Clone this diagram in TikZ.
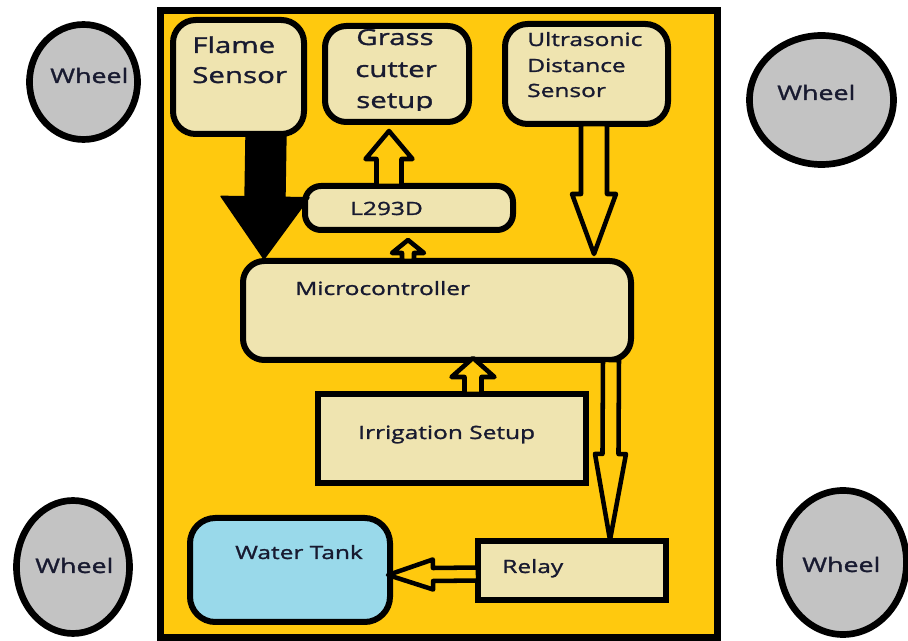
\documentclass[tikz,border=0pt]{standalone}
\usepackage{fontspec}
\setmainfont[FakeStretch=1.34,FakeBold=1.4]{Open Sans}
\usetikzlibrary{shapes.geometric}
\definecolor{gold}{RGB}{255,201,14}
\definecolor{boxtan}{RGB}{239,228,176}
\definecolor{tankblue}{RGB}{153,217,234}
\definecolor{wheelgray}{RGB}{195,195,195}
\definecolor{txt}{RGB}{24,26,48}
\makeatletter
% \blockarrow[style]{from}{to}{half shaft}{half head}{head length}  (px units)
\newcommand\blockarrow[6][]{%
  \pgfpointdiff{\pgfpointanchor{#2}{center}}{\pgfpointanchor{#3}{center}}%
  \pgfgetlastxy{\ba@dx}{\ba@dy}%
  \pgfmathsetmacro\ba@ang{atan2(\ba@dy,\ba@dx)}%
  \pgfmathsetmacro\ba@len{veclen(\ba@dx,\ba@dy)/0.75}%
  \begin{scope}[shift={(#2)}, rotate=\ba@ang, x=0.75pt, y=0.75pt]
    \draw[#1] (0,-#4) -- ({\ba@len-#6},-#4) -- ({\ba@len-#6},-#5) -- (\ba@len,0)
      -- ({\ba@len-#6},#5) -- ({\ba@len-#6},#4) -- (0,#4) -- cycle;
  \end{scope}}
\makeatother
\tikzset{
  box/.style={draw=black, line width=4.5pt, fill=boxtan, inner sep=0pt, outer sep=0pt},
  wheel/.style={ellipse, draw=black, line width=5pt, fill=wheelgray, inner sep=0pt},
  lbl/.style={anchor=base west, inner sep=0pt, text=txt, font=\fontsize{13.7}{16}\selectfont},
  biglbl/.style={lbl, font=\fontsize{16.5}{20}\selectfont},
  wheellbl/.style={lbl, font=\fontsize{15}{18}\selectfont},
  hollowarrow/.style={draw=black, line width=3.4pt, fill=gold, line join=round},
  solidarrow/.style={draw=black, line width=1pt, fill=black, line join=round}
}
\begin{document}
\begin{tikzpicture}[x=0.75pt, y=-0.75pt]
\useasboundingbox (0,0) rectangle (908,641);
\fill[white] (0,0) rectangle (908,641);

% chassis
\node[draw=black, line width=5.25pt, fill=gold, inner sep=0pt,
      minimum width=417.75pt, minimum height=470.25pt] (chassis) at (439,324) {};

% wheels
\node[wheel, minimum width=81pt, minimum height=86.25pt] (w1) at (83.5,82) {};
\node[wheel, minimum width=108pt, minimum height=96.75pt] (w2) at (821.5,100) {};
\node[wheel, minimum width=84.75pt, minimum height=99.75pt] (w3) at (73,567) {};
\node[wheel, minimum width=95.25pt, minimum height=108pt] (w4) at (843,562.5) {};

% boxes
\node[box, rounded corners=17pt, minimum width=98.25pt, minimum height=85.5pt] (flame) at (238.5,77) {};
\node[box, rounded corners=16pt, minimum width=108pt, minimum height=72pt] (grass) at (397,74) {};
\node[box, rounded corners=17pt, minimum width=122.25pt, minimum height=75pt] (ultra) at (586.5,74) {};
\node[box, rounded corners=12pt, minimum width=156pt, minimum height=33pt] (l293) at (409,208) {};
\node[box, rounded corners=16pt, minimum width=291pt, minimum height=74.25pt] (micro) at (437,310.5) {};
\node[box, minimum width=201pt, minimum height=66.75pt] (irr) at (452,438.5) {};
\node[box, fill=tankblue, rounded corners=19pt, minimum width=150pt, minimum height=78pt] (tank) at (290,570) {};
\node[box, minimum width=141pt, minimum height=44.25pt] (relay) at (572,570.5) {};

% arrow end points
\coordinate (fa1) at (266,135);  \coordinate (fa2) at (264,259);
\coordinate (ga1) at (389,186);  \coordinate (ga2) at (389,131);
\coordinate (sa1) at (408,261);  \coordinate (sa2) at (408,240);
\coordinate (ua1) at (594,124);  \coordinate (ua2) at (594,254);
\coordinate (ia1) at (473,394);  \coordinate (ia2) at (473,358);
\coordinate (ra1) at (611,360);  \coordinate (ra2) at (610,540);
\coordinate (ta1) at (478,574);  \coordinate (ta2) at (388,575);

\blockarrow[solidarrow]{fa1}{fa2}{20}{44}{62}
\blockarrow[hollowarrow]{ga1}{ga2}{12.5}{23.5}{28}
\blockarrow[hollowarrow]{sa1}{sa2}{6}{16}{13}
\blockarrow[hollowarrow]{ua1}{ua2}{13}{22}{60}
\blockarrow[hollowarrow]{ia1}{ia2}{8.5}{21.5}{19}
\blockarrow[hollowarrow]{ra1}{ra2}{8}{15.5}{86}
\blockarrow[hollowarrow]{ta1}{ta2}{6.5}{15}{45}

% texts
\node[biglbl] (t-flame1) at (192,53) {Flame};
\node[biglbl] (t-flame2) at (192,83) {Sensor};
\node[biglbl] (t-grass1) at (356,45) {Grass};
\node[biglbl] (t-grass2) at (355,77) {cutter};
\begin{scope}
  \clip (325,20) rectangle (469,110.5);
  \node[biglbl] (t-grass3) at (356,108) {setup};
\end{scope}
\node[lbl] (t-us1) at (527,46) {Ultrasonic};
\node[lbl] (t-us2) at (527,72) {Distance};
\node[lbl] (t-us3) at (527,97) {Sensor};
\node[lbl] (t-l293) at (350,215) {L293D};
\node[lbl] (t-micro) at (295,295) {Microcontroller};
\node[lbl] (t-irr) at (358,439) {Irrigation Setup};
\node[lbl] (t-tank) at (235,559) {Water Tank};
\node[lbl] (t-relay) at (502,573) {Relay};
\node[wheellbl] (t-w1) at (50,83) {Wheel};
\node[wheellbl] (t-w2) at (777,100) {Wheel};
\node[wheellbl] (t-w3) at (35,573) {Wheel};
\node[wheellbl] (t-w4) at (802,572) {Wheel};
\end{tikzpicture}
\end{document}
